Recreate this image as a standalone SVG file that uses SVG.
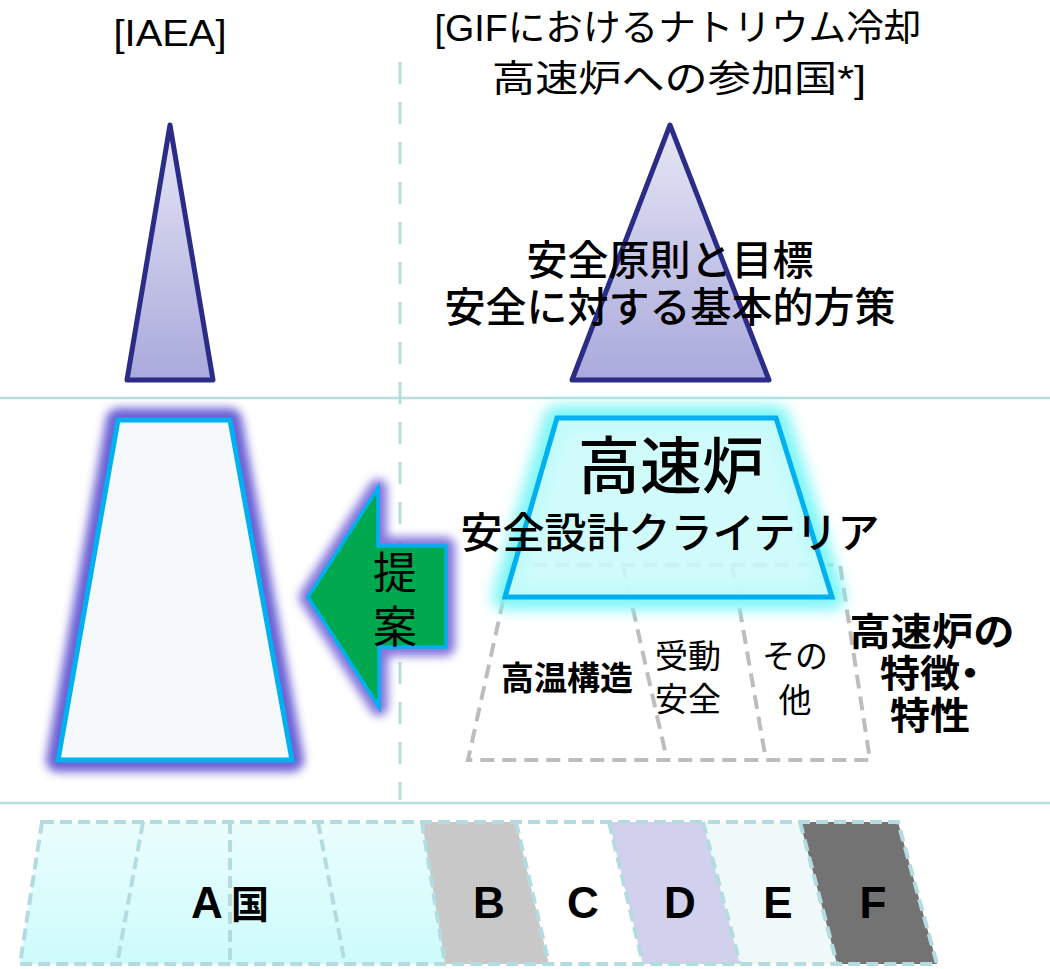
<svg xmlns="http://www.w3.org/2000/svg" width="1050" height="969" viewBox="0 0 1050 969">
<defs>
<linearGradient id="triG" x1="0" y1="0" x2="0" y2="1">
<stop offset="0" stop-color="#e6e6f5"/>
<stop offset="1" stop-color="#a9a9dc"/>
</linearGradient>
<linearGradient id="aG" x1="0" y1="0" x2="0" y2="1">
<stop offset="0" stop-color="#ebfdfd"/>
<stop offset="1" stop-color="#cdfbfb"/>
</linearGradient>
<filter id="glowP" x="-30%" y="-30%" width="160%" height="160%">
<feGaussianBlur stdDeviation="5"/>
</filter>
<filter id="glowC" x="-30%" y="-30%" width="160%" height="160%">
<feGaussianBlur stdDeviation="7"/>
</filter>
<style>
.jp{font-family:"Liberation Sans","Noto Sans CJK JP",sans-serif;fill:#000}
.en{font-family:"Liberation Sans",Arial,sans-serif;font-weight:bold;fill:#000}
.tri{fill:url(#triG);stroke:#2b2b88;stroke-width:5;stroke-linejoin:round}
.guide{stroke:#b8dde0;stroke-width:2.5;fill:none}
.vdash{stroke:#b8dcdc;stroke-width:3;stroke-dasharray:22 18;fill:none}
.gdash{stroke:#bdbdbd;stroke-width:4;stroke-dasharray:14 8;fill:none}
.tdash{stroke:#b4dbdf;stroke-width:4;stroke-dasharray:12 6;fill:none}
.palt{font-feature-settings:"palt"}
</style>
</defs>
<rect width="1050" height="969" fill="#ffffff"/>

<g id="guides">
<line class="guide" x1="0" y1="398" x2="1050" y2="398"/>
<line class="guide" x1="0" y1="803" x2="1050" y2="803"/>
<line class="vdash" x1="400" y1="62" x2="400" y2="800"/>
</g>

<g id="titles">
<text class="jp" x="170" y="46" font-size="36" text-anchor="middle" textLength="113" lengthAdjust="spacingAndGlyphs">[IAEA]</text>
<text class="jp" x="678" y="41" font-size="37" text-anchor="middle" textLength="487" lengthAdjust="spacingAndGlyphs">[GIFにおけるナトリウム冷却</text>
<text class="jp" x="679" y="92" font-size="37" text-anchor="middle" textLength="374" lengthAdjust="spacingAndGlyphs">高速炉への参加国*]</text>
</g>

<g id="iaea-triangle">
<polygon class="tri" points="170,125 213,380 127,380"/>
</g>

<g id="gif-triangle">
<polygon class="tri" points="670,125 769,380 572,380"/>
<text class="jp" x="670" y="275" font-size="41" text-anchor="middle" font-weight="500">安全原則と目標</text>
<text class="jp" x="670" y="322" font-size="41" text-anchor="middle" font-weight="500">安全に対する基本的方策</text>
</g>

<g id="iaea-trapezoid">
<polygon points="118,420 230,420 292,760 58,760" fill="none" stroke="#5b4fd0" stroke-width="24" stroke-linejoin="round" filter="url(#glowP)" opacity="0.9"/>
<polygon points="118,420 230,420 292,760 58,760" fill="#f5f9fb" stroke="#00b0f0" stroke-width="5"/>
</g>

<g id="features">
<polygon class="gdash" points="511,565 840,565 870,760 468,760"/>
<line class="gdash" x1="623" y1="565" x2="667" y2="760"/>
<line class="gdash" x1="732" y1="565" x2="766" y2="760"/>
<text class="jp" x="567" y="690" font-size="33" text-anchor="middle" font-weight="bold">高温構造</text>
<text class="jp" x="688" y="668" font-size="33" text-anchor="middle" fill="#222">受動</text>
<text class="jp" x="688" y="711" font-size="33" text-anchor="middle" fill="#222">安全</text>
<text class="jp" x="795" y="668" font-size="33" text-anchor="middle" fill="#222">その</text>
<text class="jp" x="795" y="712" font-size="33" text-anchor="middle" fill="#222">他</text>
<text class="jp" x="932" y="645" font-size="37.5" text-anchor="middle" font-weight="bold" textLength="165" lengthAdjust="spacingAndGlyphs">高速炉の</text>
<text class="jp palt" x="930" y="687" font-size="37.5" text-anchor="middle" font-weight="bold" textLength="100" lengthAdjust="spacingAndGlyphs">特徴・</text>
<text class="jp" x="930" y="729" font-size="37.5" text-anchor="middle" font-weight="bold" textLength="80" lengthAdjust="spacingAndGlyphs">特性</text>
</g>

<g id="fbr-criteria">
<polygon points="557,418 776,418 832,597 505,597" fill="none" stroke="#7ff6f6" stroke-width="26" stroke-linejoin="round" filter="url(#glowC)"/>
<polygon points="557,418 776,418 832,597 505,597" fill="#cbfbfb" fill-opacity="0.88" stroke="#00b0f0" stroke-width="5"/>
<text class="jp" x="671" y="489" font-size="62" text-anchor="middle" font-weight="500">高速炉</text>
<text class="jp" x="670" y="548" font-size="42" text-anchor="middle" font-weight="500">安全設計クライテリア</text>
</g>

<g id="proposal-arrow">
<polygon points="308,597 378,488 378,546 446,546 446,647 379,647 379,707" fill="none" stroke="#6a5cd6" stroke-width="18" stroke-linejoin="round" filter="url(#glowP)" opacity="0.85"/>
<polygon points="308,597 378,488 378,546 446,546 446,647 379,647 379,707" fill="#00a84f" stroke="#00b0f0" stroke-width="3.5"/>
<text class="jp" x="395" y="589" font-size="44" text-anchor="middle">提</text>
<text class="jp" x="395" y="643" font-size="44" text-anchor="middle">案</text>
</g>

<g id="countries">
<polygon points="42,822 422,822 445,964 20,964" fill="url(#aG)"/>
<polygon points="422,822 516,822 549,964 445,964" fill="#c8c8c8"/>
<polygon points="516,822 609,822 643,964 549,964" fill="#ffffff"/>
<polygon points="609,822 703,822 740,964 643,964" fill="#d1d1ee"/>
<polygon points="703,822 800,822 837,964 740,964" fill="#eff9f9"/>
<polygon points="800,822 898,822 937,964 837,964" fill="#737373"/>
<polygon class="tdash" points="42,822 898,822 937,964 20,964"/>
<line class="tdash" x1="143" y1="822" x2="117" y2="964"/>
<line class="tdash" x1="230" y1="822" x2="230" y2="964"/>
<line class="tdash" x1="318" y1="822" x2="345" y2="964"/>
<line class="tdash" x1="422" y1="822" x2="445" y2="964"/>
<line class="tdash" x1="516" y1="822" x2="549" y2="964"/>
<line class="tdash" x1="609" y1="822" x2="643" y2="964"/>
<line class="tdash" x1="703" y1="822" x2="740" y2="964"/>
<line class="tdash" x1="800" y1="822" x2="837" y2="964"/>
<text class="en" x="191" y="918" font-size="44">A</text>
<text class="jp" x="231" y="918" font-size="38" font-weight="bold">国</text>
<text class="en" x="489" y="918" font-size="44" text-anchor="middle">B</text>
<text class="en" x="583" y="918" font-size="44" text-anchor="middle">C</text>
<text class="en" x="680" y="918" font-size="44" text-anchor="middle">D</text>
<text class="en" x="778" y="918" font-size="44" text-anchor="middle">E</text>
<text class="en" x="873" y="918" font-size="44" text-anchor="middle">F</text>
</g>
</svg>
